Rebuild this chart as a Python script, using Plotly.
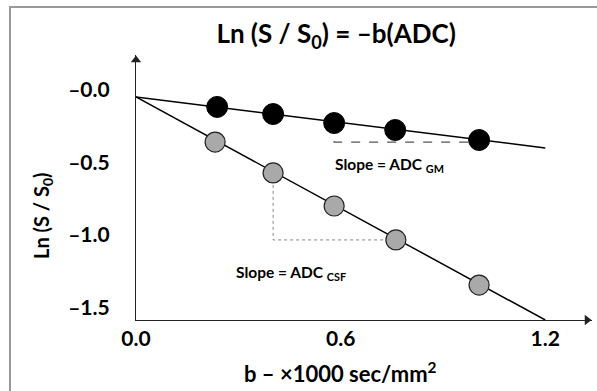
import plotly.graph_objects as go

# Data
b_gm = [0.238, 0.402, 0.581, 0.760, 1.006]
ln_gm = [-0.117, -0.166, -0.228, -0.276, -0.345]
b_csf = [0.232, 0.402, 0.581, 0.762, 1.006]
ln_csf = [-0.359, -0.572, -0.800, -1.034, -1.345]
fit_b = [0.0, 1.2]
fit_gm = [-0.048, -0.400]
fit_csf = [-0.048, -1.586]
x_ticks = [0.0, 0.6, 1.2]
x_ticktext = ["0.0", "0.6", "1.2"]
y_ticks = [0.0, -0.5, -1.0, -1.5]
y_ticktext = ["–0.0", "–0.5", "–1.0", "–1.5"]

FONT = "Lato"
XMAX = 1.337
YMIN, YMAX = -1.586, 0.241
PX_X = 341.0   # pixels per x unit
PX_Y = 145.0   # pixels per y unit

fig = go.Figure()
fig.add_trace(go.Scatter(x=fit_b, y=fit_gm, mode="lines",
                         line=dict(color="black", width=1.5), showlegend=False))
fig.add_trace(go.Scatter(x=fit_b, y=fit_csf, mode="lines",
                         line=dict(color="black", width=1.5), showlegend=False))
# slope triangles
fig.add_trace(go.Scatter(x=[b_gm[2], b_gm[2], b_gm[4]],
                         y=[ln_gm[2], ln_gm[4] - 0.014, ln_gm[4] - 0.014],
                         mode="lines", line=dict(color="#555", width=1.3, dash="dash"),
                         showlegend=False))
fig.add_trace(go.Scatter(x=[b_csf[1], b_csf[1], b_csf[3]],
                         y=[ln_csf[1], ln_csf[3], ln_csf[3]],
                         mode="lines", line=dict(color="#888", width=1, dash="dot"),
                         showlegend=False))
fig.add_trace(go.Scatter(x=b_gm, y=ln_gm, mode="markers",
                         marker=dict(size=21, color="black",
                                     line=dict(color="black", width=1)),
                         showlegend=False))
fig.add_trace(go.Scatter(x=b_csf, y=ln_csf, mode="markers",
                         marker=dict(size=20, color="#a9a9a9",
                                     line=dict(color="#222", width=1.2)),
                         showlegend=False))
# axis arrow heads
fig.add_trace(go.Scatter(x=[XMAX - 5 / PX_X], y=[YMIN], mode="markers", cliponaxis=False,
                         marker=dict(symbol="triangle-right", size=9, color="#222"),
                         showlegend=False, hoverinfo="skip"))
fig.add_trace(go.Scatter(x=[0], y=[YMAX - 5 / PX_Y], mode="markers", cliponaxis=False,
                         marker=dict(symbol="triangle-up", size=9, color="#222"),
                         showlegend=False, hoverinfo="skip"))

fig.update_layout(
    width=597, height=391,
    margin=dict(l=136, r=5, t=55, b=71),
    paper_bgcolor="white", plot_bgcolor="white",
    font=dict(family=FONT, color="black"),
    title=dict(text="<b>Ln (S / S<sub>0</sub>) = –b(ADC)</b>",
               font=dict(family=FONT, size=26, color="black"),
               xref="container", x=0.563, xanchor="center",
               yref="container", y=1 - 34 / 391, yanchor="middle"),
    xaxis=dict(range=[0, XMAX], showgrid=False, zeroline=False,
               showline=True, linecolor="#222", linewidth=1.2,
               tickvals=x_ticks, ticktext=[f"<b>{t}</b>" for t in x_ticktext],
               tickfont=dict(family=FONT, size=21, color="black"),
               ticks="", ticklabelstandoff=0),
    yaxis=dict(range=[YMIN, YMAX], showgrid=False, zeroline=False,
               showline=True, linecolor="#222", linewidth=1.2,
               tickvals=y_ticks, ticktext=[f"<b>{t}</b>" for t in y_ticktext],
               tickfont=dict(family=FONT, size=21, color="black"),
               ticks="", ticklabelstandoff=21),
)

# axis titles
fig.add_annotation(text="<b>b – ×1000 sec/mm<sup>2</sup></b>", xref="paper", yref="paper",
                   x=(340 - 136) / 456, y=(320 - 372) / 265, xanchor="center", yanchor="middle",
                   showarrow=False, font=dict(family=FONT, size=22, color="black"))
fig.add_annotation(text="<b>Ln (S / S<sub>0</sub>)</b>", xref="paper", yref="paper",
                   x=(42 - 136) / 456, y=(320 - 216) / 265, xanchor="center", yanchor="middle",
                   textangle=-90, showarrow=False, font=dict(family=FONT, size=20, color="black"))

# slope labels
fig.add_annotation(text="<b>Slope = ADC <sub>GM</sub></b>", xref="paper", yref="paper",
                   x=(333 - 136) / 456, y=(320 - 165) / 265, xanchor="left", yanchor="middle",
                   showarrow=False, font=dict(family=FONT, size=15.5, color="black"))
fig.add_annotation(text="<b>Slope = ADC <sub>CSF</sub></b>", xref="paper", yref="paper",
                   x=(234 - 136) / 456, y=(320 - 273) / 265, xanchor="left", yanchor="middle",
                   showarrow=False, font=dict(family=FONT, size=15.5, color="black"))

# frame around the panel
fig.add_shape(type="rect", xref="paper", yref="paper",
              x0=(10 - 136) / 456, x1=1.2, y0=-0.5, y1=(320 - 7) / 265,
              line=dict(color="#999", width=2), fillcolor="rgba(0,0,0,0)", layer="below")

fig.write_html("out.html")
